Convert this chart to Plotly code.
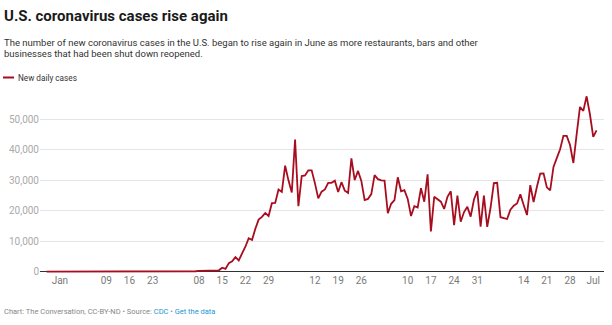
import pandas as pd
import plotly.graph_objects as go

# ---- data ----
start_date = "2020-01-22"
early_cases = [1, 0, 1, 0, 2, 0, 0, 0, 1, 1,
               1, 3, 0, 0, 1, 0, 0, 0, 0, 1, 0, 0, 1, 0, 0, 0, 0, 0, 0, 0,
               0, 0, 0, 0, 0, 18, 0, 0, 3,
               20, 30, 40, 60, 80, 100, 150]
later_cases = [300, 350, 450, 500, 550, 500, 450, 1300, 900, 2800,
               3400, 4800, 3700, 6000, 8200, 11000, 10400, 14100, 17100, 18000,
               19300, 18300, 22500, 22600, 27000, 26200, 34800, 30000, 26000, 43400,
               21500, 31400, 31600, 33300, 33300, 29000, 24100, 26300, 27000, 29200,
               29200, 29900, 26200, 29400, 26600, 25900, 37200, 30100, 33100, 29800,
               23500, 23900, 25500, 31700, 30400, 30000, 29900, 19200, 22300, 23500,
               31000, 26400, 26800, 23900, 18300, 21500, 21100, 27400, 23000, 32000,
               13200, 24600, 23700, 23000, 20600, 24600, 26400, 15300, 25000, 16400,
               19600, 21300, 18100, 23700, 26500, 14800, 25000, 14700, 21000, 29100,
               29200, 17900, 17600, 17300, 20400, 21700, 22400, 25400, 21900, 18600,
               28400, 22900, 27900, 32200, 32300, 27700, 26700, 34400, 37300, 40200,
               44600, 44600, 41600, 35700, 45200, 54100, 52800, 57600, 51700, 44300,
               46400]
cases = early_cases + later_cases
dates = pd.date_range(start_date, periods=len(cases), freq="D")

tick_dates = ["2020-01-26", "2020-02-09", "2020-02-16", "2020-02-23",
              "2020-03-08", "2020-03-15", "2020-03-22", "2020-03-29",
              "2020-04-12", "2020-04-19", "2020-04-26",
              "2020-05-10", "2020-05-17", "2020-05-24", "2020-05-31",
              "2020-06-14", "2020-06-21", "2020-06-28", "2020-07-05"]
tick_text = ["Jan", "09", "16", "23", "08", "15", "22", "29", "12", "19", "26",
             "10", "17", "24", "31", "14", "21", "28", "Jul"]
y_ticks = [0, 10000, 20000, 30000, 40000, 50000]

title = "U.S. coronavirus cases rise again"
subtitle1 = "The number of new coronavirus cases in the U.S. began to rise again in June as more restaurants, bars and other"
subtitle2 = "businesses that had been shut down reopened."
legend_label = "New daily cases"

# ---- layout helpers ----
W, H = 612, 325
ML, MR, MT, MB = 40, 8, 89, 52
PW, PH = W - ML - MR, H - MT - MB


def xp(px):
    return (px - ML) / PW


def yp(py):
    return (H - MB - py) / PH


RED = "#a80d1f"
FONT = "Roboto, sans-serif"

fig = go.Figure()
fig.add_trace(go.Scatter(x=dates, y=cases, mode="lines",
                         line=dict(color=RED, width=1.8),
                         name=legend_label, showlegend=False,
                         hoverinfo="x+y"))

fig.update_layout(
    width=W, height=H,
    margin=dict(l=ML, r=MR, t=MT, b=MB, pad=0),
    paper_bgcolor="white", plot_bgcolor="white",
    font=dict(family=FONT, size=10, color="#888"),
    xaxis=dict(
        type="date",
        range=["2020-01-20 00:00", "2020-07-08 06:00"],
        tickmode="array", tickvals=tick_dates, ticktext=tick_text,
        showgrid=False, zeroline=False, showline=False, ticks="",
        tickfont=dict(family=FONT, size=10, color="#7a7a7a"),
        fixedrange=True,
    ),
    yaxis=dict(
        range=[-427, 60000],
        tickmode="array", tickvals=y_ticks, tickformat=",d",
        showgrid=True, gridcolor="#e5e5e5", gridwidth=1,
        zeroline=True, zerolinecolor="#333333", zerolinewidth=1,
        showline=False, ticks="",
        tickfont=dict(family=FONT, size=10, color="#aaaaaa"),
        fixedrange=True,
    ),
)

annotations = [
    dict(text="<b>" + title + "</b>", x=xp(2), y=yp(16),
         font=dict(family=FONT, size=15, color="#1a1a1a")),
    dict(text=subtitle1, x=xp(2), y=yp(42),
         font=dict(family=FONT, size=9.5, color="#333333")),
    dict(text=subtitle2, x=xp(2), y=yp(54),
         font=dict(family=FONT, size=9.5, color="#333333")),
    dict(text=legend_label, x=xp(16), y=yp(77.5),
         font=dict(family=FONT, size=8.2, color="#333333")),
    dict(text="Chart: The Conversation, CC-BY-ND • Source: "
              "<span style='color:#1b98d5'>CDC</span> • "
              "<span style='color:#1b98d5'>Get the data</span>",
         x=xp(2), y=yp(311),
         font=dict(family=FONT, size=7.5, color="#888888")),
]
for a in annotations:
    a.update(xref="paper", yref="paper", xanchor="left", yanchor="middle",
             showarrow=False, align="left")
fig.update_layout(annotations=annotations)

fig.add_shape(type="line", xref="paper", yref="paper",
              x0=xp(3), x1=xp(14), y0=yp(77.5), y1=yp(77.5),
              line=dict(color=RED, width=2))

fig.write_html("out.html")
